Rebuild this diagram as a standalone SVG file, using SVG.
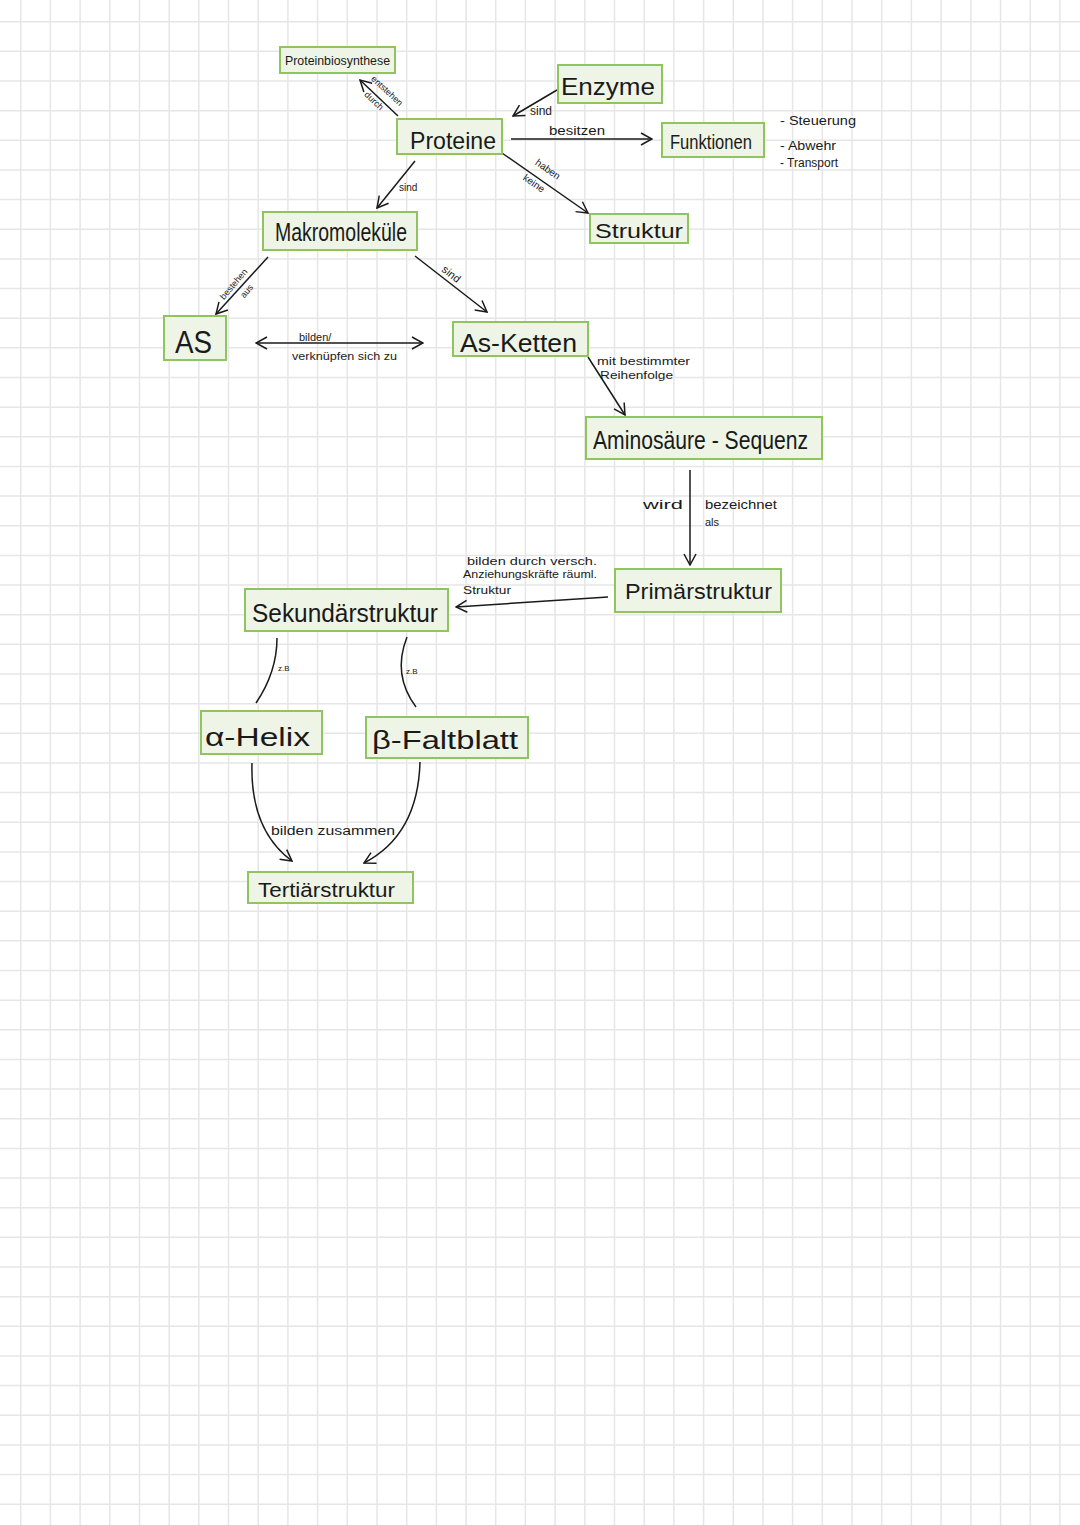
<svg xmlns="http://www.w3.org/2000/svg" width="1080" height="1525" viewBox="0 0 1080 1525">
<style>
.box{fill:#eef5e6;stroke:#8fc45f;stroke-width:2}
.t{font-family:"Liberation Sans",Arial,sans-serif;fill:#1a1a1a}
.c{fill:none;stroke:#1a1a1a;stroke-width:1.5}
.grid{fill:none;stroke:#e6e6e6;stroke-width:1.5}
</style>
<defs>
<marker id="ah" markerUnits="userSpaceOnUse" markerWidth="14" markerHeight="14" viewBox="0 0 14 14" refX="13" refY="7" orient="auto-start-reverse">
<path d="M2,1 L13,7 L2,13" fill="none" stroke="#1a1a1a" stroke-width="1.5"/>
</marker>
</defs>
<rect x="0" y="0" width="1080" height="1525" fill="#ffffff"/>
<path class="grid" d="M20.7,0V1525M50.4,0V1525M80.1,0V1525M109.8,0V1525M139.5,0V1525M169.2,0V1525M198.8,0V1525M228.5,0V1525M258.2,0V1525M287.9,0V1525M317.6,0V1525M347.3,0V1525M377,0V1525M406.7,0V1525M436.4,0V1525M466.1,0V1525M495.7,0V1525M525.4,0V1525M555.1,0V1525M584.8,0V1525M614.5,0V1525M644.2,0V1525M673.9,0V1525M703.6,0V1525M733.3,0V1525M763,0V1525M792.6,0V1525M822.3,0V1525M852,0V1525M881.7,0V1525M911.4,0V1525M941.1,0V1525M970.8,0V1525M1000.5,0V1525M1030.2,0V1525M1059.9,0V1525
M0,21.7H1080M0,51.35H1080M0,81H1080M0,110.65H1080M0,140.3H1080M0,169.95H1080M0,199.6H1080M0,229.25H1080M0,258.9H1080M0,288.55H1080M0,318.2H1080M0,347.85H1080M0,377.5H1080M0,407.15H1080M0,436.8H1080M0,466.45H1080M0,496.1H1080M0,525.75H1080M0,555.4H1080M0,585.05H1080M0,614.7H1080M0,644.35H1080M0,674H1080M0,703.65H1080M0,733.3H1080M0,762.95H1080M0,792.6H1080M0,822.25H1080M0,851.9H1080M0,881.55H1080M0,911.2H1080M0,940.85H1080M0,970.5H1080M0,1000.15H1080M0,1029.8H1080M0,1059.45H1080M0,1089.1H1080M0,1118.75H1080M0,1148.4H1080M0,1178.05H1080M0,1207.7H1080M0,1237.35H1080M0,1267H1080M0,1296.65H1080M0,1326.3H1080M0,1355.95H1080M0,1385.6H1080M0,1415.25H1080M0,1444.9H1080M0,1474.55H1080M0,1504.2H1080"/>

<g id="connectors">
<path class="c" d="M398,116 L360,80" marker-end="url(#ah)"/>
<path class="c" d="M557,90 L513,116" marker-end="url(#ah)"/>
<path class="c" d="M511,139 L652,139" marker-end="url(#ah)"/>
<path class="c" d="M502,153 L588,213" marker-end="url(#ah)"/>
<path class="c" d="M415,161 L377,208" marker-end="url(#ah)"/>
<path class="c" d="M268,257 L216,314" marker-end="url(#ah)"/>
<path class="c" d="M415,256 L487,312" marker-end="url(#ah)"/>
<path class="c" d="M256,343 L423,343" marker-start="url(#ah)" marker-end="url(#ah)"/>
<path class="c" d="M588,357 L625,415" marker-end="url(#ah)"/>
<path class="c" d="M690,470 L690,565" marker-end="url(#ah)"/>
<path class="c" d="M608,597 L456,607" marker-end="url(#ah)"/>
<path class="c" d="M277,638 Q277,672 256,703"/>
<path class="c" d="M407,637 Q392,675 416,707"/>
<path class="c" d="M252,763 Q250,830 292,861" marker-end="url(#ah)"/>
<path class="c" d="M420,762 Q418,835 364,863" marker-end="url(#ah)"/>

<g class="t" font-size="9">
<text transform="translate(385,93) rotate(43)" text-anchor="middle">entstehen</text>
<text transform="translate(372,103) rotate(43)" text-anchor="middle">durch</text>
</g>
<text class="t" x="530" y="115" font-size="12">sind</text>
<text class="t" x="549" y="135" font-size="12" textLength="56" lengthAdjust="spacingAndGlyphs">besitzen</text>
<g class="t" font-size="10">
<text transform="translate(546,172) rotate(35)" text-anchor="middle">haben</text>
<text transform="translate(532,186) rotate(35)" text-anchor="middle">keine</text>
</g>
<text class="t" x="399" y="191" font-size="10">sind</text>
<g class="t" font-size="9">
<text transform="translate(236,286) rotate(-50)" text-anchor="middle">bestehen</text>
<text transform="translate(249,293) rotate(-50)" text-anchor="middle">aus</text>
</g>
<text class="t" transform="translate(449,277) rotate(38)" text-anchor="middle" font-size="11">sind</text>
<text class="t" x="299" y="341" font-size="11">bilden/</text>
<text class="t" x="292" y="360" font-size="10" textLength="105" lengthAdjust="spacingAndGlyphs">verknüpfen sich zu</text>
<text class="t" x="597" y="365" font-size="10" textLength="93" lengthAdjust="spacingAndGlyphs">mit bestimmter</text>
<text class="t" x="600" y="379" font-size="10" textLength="73" lengthAdjust="spacingAndGlyphs">Reihenfolge</text>
<text class="t" x="643" y="509" font-size="13" textLength="40" lengthAdjust="spacingAndGlyphs">wird</text>
<text class="t" x="705" y="509" font-size="13" textLength="72" lengthAdjust="spacingAndGlyphs">bezeichnet</text>
<text class="t" x="705" y="526" font-size="11">als</text>
<text class="t" x="467" y="565" font-size="11" textLength="130" lengthAdjust="spacingAndGlyphs">bilden durch versch.</text>
<text class="t" x="463" y="578" font-size="10" textLength="134" lengthAdjust="spacingAndGlyphs">Anziehungskräfte räuml.</text>
<text class="t" x="463" y="594" font-size="10" textLength="48" lengthAdjust="spacingAndGlyphs">Struktur</text>
<text class="t" x="278" y="671" font-size="8">z.B</text>
<text class="t" x="406" y="674" font-size="8">z.B</text>
<text class="t" x="271" y="835" font-size="12" textLength="124" lengthAdjust="spacingAndGlyphs">bilden zusammen</text>
</g>

<g id="n-proteinbiosynthese">
<rect class="box" x="280" y="47" width="115" height="26"/>
<text class="t" x="285" y="65" font-size="13" textLength="105" lengthAdjust="spacingAndGlyphs">Proteinbiosynthese</text>
</g>
<g id="n-proteine">
<rect class="box" x="397" y="119" width="105" height="35"/>
<text class="t" x="410" y="149" font-size="24" textLength="86" lengthAdjust="spacingAndGlyphs">Proteine</text>
</g>
<g id="n-enzyme">
<rect class="box" x="558" y="65" width="104" height="38"/>
<text class="t" x="561" y="95" font-size="24" textLength="94" lengthAdjust="spacingAndGlyphs">Enzyme</text>
</g>
<g id="n-funktionen">
<rect class="box" x="662" y="123" width="102" height="34"/>
<text class="t" x="670" y="149" font-size="20" textLength="82" lengthAdjust="spacingAndGlyphs">Funktionen</text>
</g>
<g id="n-liste" class="t" font-size="12">
<text x="780" y="125" textLength="76" lengthAdjust="spacingAndGlyphs">- Steuerung</text>
<text x="780" y="150" textLength="56" lengthAdjust="spacingAndGlyphs">- Abwehr</text>
<text x="780" y="167" textLength="58" lengthAdjust="spacingAndGlyphs">- Transport</text>
</g>
<g id="n-struktur">
<rect class="box" x="590" y="214" width="98" height="29"/>
<text class="t" x="595" y="238" font-size="21" textLength="88" lengthAdjust="spacingAndGlyphs">Struktur</text>
</g>
<g id="n-makromolekuele">
<rect class="box" x="263" y="212" width="154" height="38"/>
<text class="t" x="275" y="241" font-size="25" textLength="132" lengthAdjust="spacingAndGlyphs">Makromoleküle</text>
</g>
<g id="n-as">
<rect class="box" x="164" y="316" width="62" height="44"/>
<text class="t" x="175" y="353" font-size="32" textLength="37" lengthAdjust="spacingAndGlyphs">AS</text>
</g>
<g id="n-asketten">
<rect class="box" x="453" y="322" width="135" height="34"/>
<text class="t" x="460" y="352" font-size="26" textLength="117" lengthAdjust="spacingAndGlyphs">As-Ketten</text>
</g>
<g id="n-aminosaeure">
<rect class="box" x="586" y="417" width="236" height="42"/>
<text class="t" x="593" y="449" font-size="26" textLength="215" lengthAdjust="spacingAndGlyphs">Aminosäure - Sequenz</text>
</g>
<g id="n-primaer">
<rect class="box" x="615" y="569" width="166" height="43"/>
<text class="t" x="625" y="599" font-size="22" textLength="147" lengthAdjust="spacingAndGlyphs">Primärstruktur</text>
</g>
<g id="n-sekundaer">
<rect class="box" x="245" y="589" width="203" height="42"/>
<text class="t" x="252" y="622" font-size="25" textLength="186" lengthAdjust="spacingAndGlyphs">Sekundärstruktur</text>
</g>
<g id="n-helix">
<rect class="box" x="201" y="711" width="121" height="43"/>
<text class="t" x="205" y="746" font-size="25" textLength="105" lengthAdjust="spacingAndGlyphs">α-Helix</text>
</g>
<g id="n-faltblatt">
<rect class="box" x="366" y="717" width="162" height="41"/>
<text class="t" x="372" y="749" font-size="25" textLength="146" lengthAdjust="spacingAndGlyphs">β-Faltblatt</text>
</g>
<g id="n-tertiaer">
<rect class="box" x="248" y="872" width="165" height="31"/>
<text class="t" x="258" y="897" font-size="20" textLength="137" lengthAdjust="spacingAndGlyphs">Tertiärstruktur</text>
</g>
</svg>
